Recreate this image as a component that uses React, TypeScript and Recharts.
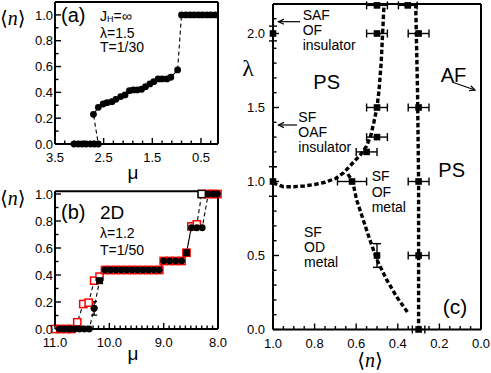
import React from 'react';
import { ComposedChart, Line, Scatter, XAxis, YAxis, ErrorBar } from 'recharts';

// ---- panel (a): J_H = inf, lambda = 1.5, T = 1/30
const aMu = [3.11, 3.02, 2.94, 2.86, 2.77, 2.69, 2.61, 2.71, 2.61, 2.51, 2.43, 2.33, 2.25, 2.15, 2.06, 1.97, 1.89, 1.81, 1.72, 1.64, 1.55, 1.47, 1.38, 1.3, 1.2, 1.12, 0.98, 0.9, 0.81, 0.72, 0.64, 0.55, 0.47, 0.38, 0.3, 0.21];
const aN = [0, 0, 0, 0, 0, 0, 0, 0.23, 0.284, 0.31, 0.32, 0.328, 0.346, 0.367, 0.38, 0.413, 0.419, 0.419, 0.424, 0.444, 0.465, 0.483, 0.504, 0.504, 0.504, 0.517, 0.574, 1, 1, 1, 1, 1, 1, 1, 1, 1];

// ---- panel (b): 2D, lambda = 1.2, T = 1/50
const bBlackMu = [10.92, 10.83, 10.73, 10.64, 10.55, 10.46, 10.37, 10.28, 10.08, 9.98, 9.88, 9.78, 9.68, 9.58, 9.48, 9.38, 9.28, 9.18, 9.08, 9.0, 8.89, 8.78, 8.67, 8.49, 8.39, 8.29, 8.18, 8.09, 8.01];
const bBlackN = [0, 0, 0, 0, 0, 0, 0, 0.153, 0.437, 0.437, 0.437, 0.437, 0.437, 0.437, 0.437, 0.437, 0.437, 0.437, 0.437, 0.504, 0.504, 0.504, 0.504, 0.75, 0.75, 0.75, 1, 1, 1];
const bBlackErr = [0, 0, 0, 0, 0, 0, 0, 0.05, 0, 0, 0, 0, 0, 0, 0, 0, 0, 0, 0, 0, 0, 0, 0, 0, 0, 0, 0, 0, 0];
const bSquareMu = [10.18, 8.58];
const bSquareN = [0.358, 0.565];
const bRedMu = [11.0, 10.9, 10.8, 10.7, 10.59, 10.48, 10.38, 10.28, 10.18, 10.08, 9.98, 9.88, 9.78, 9.68, 9.58, 9.48, 9.38, 9.28, 9.18, 9.08, 9.0, 8.89, 8.78, 8.67, 8.58, 8.49, 8.39, 8.3, 8.18, 8.09, 8.01];
const bRedN = [0, 0, 0, 0, 0.05, 0.185, 0.195, 0.358, 0.388, 0.437, 0.437, 0.437, 0.437, 0.437, 0.437, 0.437, 0.437, 0.437, 0.437, 0.437, 0.504, 0.504, 0.504, 0.504, 0.565, 0.76, 0.775, 1, 1, 1, 1];
const bOpenMu = [8.3];
const bOpenN = [1.0];

// ---- panel (c): phase diagram, lambda vs <n>
const c1N = [1.0, 0.95, 0.9, 0.85, 0.8, 0.75, 0.7, 0.66, 0.62, 0.58, 0.55, 0.53, 0.515, 0.5, 0.49, 0.48, 0.473, 0.466];
const c1Lam = [0.99, 0.965, 0.965, 0.97, 0.98, 0.995, 1.02, 1.06, 1.12, 1.18, 1.24, 1.31, 1.4, 1.5, 1.62, 1.8, 2.0, 2.2];
const c2N = [0.64, 0.617, 0.598, 0.566, 0.534, 0.5, 0.453, 0.405, 0.35];
const c2Lam = [1.05, 1.0, 0.876, 0.74, 0.605, 0.47, 0.335, 0.22, 0.11];
const c3N = [0.314, 0.305, 0.3, 0.3];
const c3Lam = [2.2, 1.6, 1.0, 0.0];
const cHN = [0.5, 0.352, 0.5, 0.3, 0.5, 0.3, 0.5, 0.55, 0.62, 0.3, 0.3, 0.3];
const cHLam = [2.19, 2.19, 2.0, 2.0, 1.5, 1.5, 1.3, 1.2, 1.0, 1.0, 0.5, 0.0];
const cHErr = [0.05, 0.045, 0.05, 0.05, 0.05, 0.05, 0.05, 0.05, 0.07, 0.05, 0.05, 0.03];
const cVN = [1.0, 1.0, 0.5];
const cVLam = [2.0, 1.0, 0.5];
const cVErr = [0.05, 0.1, 0.08];

const range = (a: number, b: number, s: number) => {
  const out: number[] = [];
  const n = Math.round(Math.abs(b - a) / s);
  for (let i = 0; i <= n; i++) out.push(+(a + Math.sign(b - a) * i * s).toFixed(3));
  return out;
};

const SANS = '"Liberation Sans", Arial, Helvetica, sans-serif';
const SERIF = '"Liberation Serif", "DejaVu Serif", serif';
const near = (a: number, b: number) => Math.abs(a - b) < 1e-6;

type Side = 'bottom' | 'top' | 'left' | 'right';

function tickRenderer(side: Side, majors: number[], labels: boolean, gap = 3) {
  return (props: any) => {
    const { x, y, payload } = props;
    const v = Number(payload.value);
    const major = majors.some((m) => near(m, v));
    const len = major ? 6 : 3.5;
    let x2 = x;
    let y2 = y;
    if (side === 'bottom') y2 = y - len;
    if (side === 'top') y2 = y + len;
    if (side === 'left') x2 = x + len;
    if (side === 'right') x2 = x - len;
    return (
      <g>
        <line x1={x} y1={y} x2={x2} y2={y2} stroke="#000" strokeWidth={1.4} />
        {labels && major && side === 'bottom' && (
          <text x={x} y={y + 18} textAnchor="middle" fontSize={13} fontFamily={SANS} fill="#000">
            {v.toFixed(1)}
          </text>
        )}
        {labels && major && side === 'left' && (
          <text x={x - gap} y={y + 4.7} textAnchor="end" fontSize={13} fontFamily={SANS} fill="#000">
            {v.toFixed(1)}
          </text>
        )}
      </g>
    );
  };
}

const frameLine = { stroke: '#000', strokeWidth: 2 };

// axes get a 1px size (Recharts skips zero-size axes); margins below are reduced by 1 to compensate
function frameAxes(
  xDomain: number[], xTicks: number[], xMajors: number[], xRev: boolean,
  yDomain: number[], yTicks: number[], yMajors: number[], yGap: number,
) {
  const common = { type: 'number' as const, tickSize: 0, tickMargin: 0, interval: 0 as const, axisLine: frameLine, tickLine: false };
  return [
    <XAxis key="xb" xAxisId="b" dataKey="x" domain={xDomain} reversed={xRev} ticks={xTicks} height={1} {...common} tick={tickRenderer('bottom', xMajors, true)} />,
    <XAxis key="xt" xAxisId="t" orientation="top" dataKey="x" domain={xDomain} reversed={xRev} ticks={xTicks} height={1} {...common} tick={tickRenderer('top', xMajors, false)} />,
    <YAxis key="yl" yAxisId="l" dataKey="y" domain={yDomain} ticks={yTicks} width={1} {...common} tick={tickRenderer('left', yMajors, true, yGap)} />,
    <YAxis key="yr" yAxisId="r" orientation="right" dataKey="y" domain={yDomain} ticks={yTicks} width={1} {...common} tick={tickRenderer('right', yMajors, false)} />,
  ];
}

const zip = (xs: number[], ys: number[]) => xs.map((x, i) => ({ x, y: ys[i] }));

const dotBlack = (p: any) => <circle cx={p.cx} cy={p.cy} r={3.4} fill="#000" />;
const sqBlack = (p: any) => <rect x={p.cx - 3.5} y={p.cy - 3.5} width={7} height={7} fill="#000" />;
const sqRed = (p: any) => <rect x={p.cx - 3.6} y={p.cy - 3.6} width={7.2} height={7.2} fill="#fff" stroke="#f00" strokeWidth={1.5} />;
const sqOpenBlack = (p: any) => <rect x={p.cx - 3.6} y={p.cy - 3.6} width={7.2} height={7.2} fill="#fff" stroke="#000" strokeWidth={1.4} />;
const sqC = (p: any) => <rect x={p.cx - 3.3} y={p.cy - 3.3} width={6.6} height={6.6} fill="#000" />;

function PanelA() {
  const data = zip(aMu, aN);
  return (
    <ComposedChart width={230} height={180} margin={{ top: 1, left: 54, right: 11, bottom: 35 }}>
      {frameAxes([0.15, 3.5], range(3.5, 0.3, 0.2), [3.5, 2.5, 1.5, 0.5], true, [0, 1.1], range(0, 1.0, 0.1), [0, 0.2, 0.4, 0.6, 0.8, 1.0], 2)}
      <Line xAxisId="b" yAxisId="l" data={data} dataKey="y" type="linear" stroke="#000" strokeWidth={1.1} strokeDasharray="4 3" dot={false} isAnimationActive={false} />
      <Scatter xAxisId="b" yAxisId="l" data={data} dataKey="y" shape={dotBlack} isAnimationActive={false} />
    </ComposedChart>
  );
}

function PanelB() {
  const black = bBlackMu.map((x, i) => ({ x, y: bBlackN[i], e: bBlackErr[i] }));
  const squares = zip(bSquareMu, bSquareN);
  const blackLine = [...zip(bBlackMu, bBlackN), ...squares].sort((p, q) => q.x - p.x);
  const red = zip(bRedMu, bRedN);
  const errPts = black.filter((p) => p.e > 0);
  return (
    <ComposedChart width={230} height={193} margin={{ top: 10.3, left: 54, right: 11, bottom: 43 }}>
      {frameAxes([8, 11], range(11, 8, 0.1), [11, 10, 9, 8], true, [0, 1.02], range(0, 1.0, 0.1), [0, 0.2, 0.4, 0.6, 0.8, 1.0], 2)}
      <Line xAxisId="b" yAxisId="l" data={red} dataKey="y" type="linear" stroke="#000" strokeWidth={1.1} strokeDasharray="4 3" dot={false} isAnimationActive={false} />
      <Line xAxisId="b" yAxisId="l" data={blackLine} dataKey="y" type="linear" stroke="#000" strokeWidth={1.1} strokeDasharray="4 3" dot={false} isAnimationActive={false} />
      <Scatter xAxisId="b" yAxisId="l" data={red} dataKey="y" shape={sqRed} isAnimationActive={false} />
      <Scatter xAxisId="b" yAxisId="l" data={zip(bOpenMu, bOpenN)} dataKey="y" shape={sqOpenBlack} isAnimationActive={false} />
      <Scatter xAxisId="b" yAxisId="l" data={errPts} dataKey="y" shape={dotBlack} isAnimationActive={false}>
        <ErrorBar dataKey="e" direction="y" width={3} stroke="#000" strokeWidth={1.3} />
      </Scatter>
      <Scatter xAxisId="b" yAxisId="l" data={black} dataKey="y" shape={dotBlack} isAnimationActive={false} />
      <Scatter xAxisId="b" yAxisId="l" data={squares} dataKey="y" shape={sqBlack} isAnimationActive={false} />
    </ComposedChart>
  );
}

function PanelC() {
  const curve = { type: 'linear' as const, stroke: '#000', strokeWidth: 3.4, strokeDasharray: '4.5 2.5', dot: false, isAnimationActive: false };
  const hPts = cHN.map((x, i) => ({ x, y: cHLam[i], e: cHErr[i] }));
  const vPts = cVN.map((x, i) => ({ x, y: cVLam[i], e: cVErr[i] }));
  return (
    <ComposedChart width={261} height={373} margin={{ top: 2.9, left: 42, right: 9, bottom: 42.5 }}>
      {frameAxes([0, 1], range(0, 1, 0.05), [0, 0.2, 0.4, 0.6, 0.8, 1.0], true, [0, 2.2], range(0, 2.1, 0.1), [0, 0.5, 1.0, 1.5, 2.0], 8)}
      <Scatter xAxisId="b" yAxisId="l" data={hPts} dataKey="y" shape={sqC} isAnimationActive={false}>
        <ErrorBar dataKey="e" direction="x" width={4} stroke="#000" strokeWidth={1.4} />
      </Scatter>
      <Scatter xAxisId="b" yAxisId="l" data={vPts} dataKey="y" shape={sqC} isAnimationActive={false}>
        <ErrorBar dataKey="e" direction="y" width={4} stroke="#000" strokeWidth={1.4} />
      </Scatter>
      <Line xAxisId="b" yAxisId="l" data={zip(c1N, c1Lam)} dataKey="y" {...curve} />
      <Line xAxisId="b" yAxisId="l" data={zip(c2N, c2Lam)} dataKey="y" {...curve} />
      <Line xAxisId="b" yAxisId="l" data={zip(c3N, c3Lam)} dataKey="y" {...curve} />
    </ComposedChart>
  );
}

function T({ x, y, size = 14, anchor = 'start', children, family = SANS }: any) {
  return (
    <text x={x} y={y} fontSize={size} fontFamily={family} textAnchor={anchor} dominantBaseline="central" fill="#000">
      {children}
    </text>
  );
}

function NLabel({ x, y, anchor = 'start' }: any) {
  return (
    <text x={x} y={y} fontSize={20} fontFamily={SERIF} textAnchor={anchor} dominantBaseline="central" fill="#000">
      ⟨<tspan fontStyle="italic">n</tspan>⟩
    </text>
  );
}

function Arrow({ x1, y1, x2, y2 }: any) {
  const a = Math.atan2(y2 - y1, x2 - x1);
  const h = 6;
  const p1 = [x2 - h * Math.cos(a - 0.45), y2 - h * Math.sin(a - 0.45)];
  const p2 = [x2 - h * Math.cos(a + 0.45), y2 - h * Math.sin(a + 0.45)];
  return (
    <g stroke="#000" strokeWidth={1.2} fill="none">
      <line x1={x1} y1={y1} x2={x2} y2={y2} />
      <path d={`M${p1[0]},${p1[1]} L${x2},${y2} L${p2[0]},${p2[1]}`} />
    </g>
  );
}

export default function App() {
  return (
    <div style={{ position: 'absolute', left: 0, top: 0, width: 491, height: 373, background: '#fff' }}>
      <div style={{ position: 'absolute', left: 0, top: 0 }}><PanelA /></div>
      <div style={{ position: 'absolute', left: 0, top: 180 }}><PanelB /></div>
      <div style={{ position: 'absolute', left: 230, top: 0 }}><PanelC /></div>
      <svg width={491} height={373} style={{ position: 'absolute', left: 0, top: 0, pointerEvents: 'none' }}>
        {/* panel (a) */}
        <T x={61} y={15} size={20}>(a)</T>
        <text x={100} y={15.5} fontSize={14} fontFamily={SANS} dominantBaseline="central">
          J<tspan fontSize={9} dy={3}>H</tspan><tspan dy={-3}>=∞</tspan>
        </text>
        <T x={100} y={32.8}>λ=1.5</T>
        <T x={100} y={47.3}>T=1/30</T>
        <NLabel x={0} y={18} />
        <T x={133} y={172} size={19} anchor="middle">μ</T>
        {/* panel (b) */}
        <T x={61} y={211.7} size={20}>(b)</T>
        <T x={100} y={212.7} size={19}>2D</T>
        <T x={100} y={233.3}>λ=1.2</T>
        <T x={100} y={250}>T=1/50</T>
        <NLabel x={0} y={198} />
        <T x={133} y={353} size={19} anchor="middle">μ</T>
        {/* panel (c) */}
        <T x={248} y={68} size={24} anchor="middle" family={SERIF}>λ</T>
        <NLabel x={370} y={360} anchor="middle" />
        <T x={302.7} y={15}>SAF</T>
        <T x={302.7} y={30}>OF</T>
        <T x={302.7} y={44.5}>insulator</T>
        <Arrow x1={300} y1={21.7} x2={278.5} y2={21.7} />
        <T x={326.7} y={81.7} size={20} anchor="middle">PS</T>
        <T x={298.3} y={116.7}>SF</T>
        <T x={298.3} y={131.7}>OAF</T>
        <T x={298.3} y={146.7}>insulator</T>
        <Arrow x1={297} y1={125} x2={278.5} y2={125} />
        <T x={440.7} y={75} size={20}>AF</T>
        <Arrow x1={452} y1={82} x2={475} y2={90} />
        <T x={451.7} y={170} size={20} anchor="middle">PS</T>
        <T x={371.7} y={176}>SF</T>
        <T x={371.7} y={191.5}>OF</T>
        <T x={371.7} y={206.7}>metal</T>
        <T x={304} y={231.7}>SF</T>
        <T x={304} y={246.7}>OD</T>
        <T x={304} y={261.7}>metal</T>
        <T x={455} y={306.7} size={21} anchor="middle">(c)</T>
      </svg>
    </div>
  );
}
